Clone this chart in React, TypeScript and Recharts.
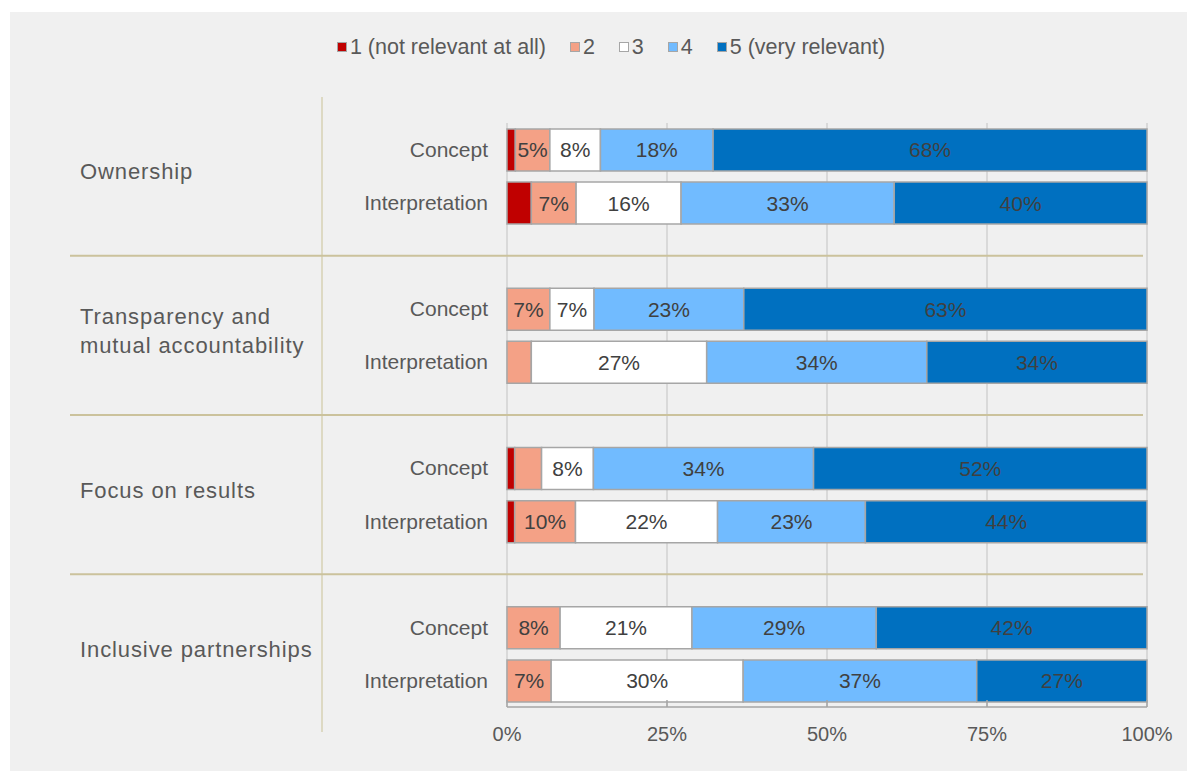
import React from 'react';
import { BarChart, Bar, XAxis, YAxis, CartesianGrid, LabelList } from 'recharts';

document.body.style.margin = '0';

const FONT = '"Liberation Sans", Arial, sans-serif';

// Principles (group labels), each split into two rows
const groups = [
  'Ownership',
  'Transparency and\nmutual accountability',
  'Focus on results',
  'Inclusive partnerships',
];
const aspects = ['Concept', 'Interpretation'];

const seriesNames = ['1 (not relevant at all)', '2', '3', '4', '5 (very relevant)'];
const seriesColors = ['#c00000', '#f4a186', '#ffffff', '#71bbff', '#0070c0'];

// share of answers in %, order: Ownership C, I, Transparency C, I, Focus C, I, Inclusive C, I
const score1 = [1.3, 3.8, 0, 0, 1.2, 1.2, 0, 0];
const score2 = [5.4, 7.0, 6.7, 3.8, 4.2, 9.5, 8.3, 6.9];
const score3 = [7.9, 16.4, 6.9, 27.4, 8.1, 22.2, 20.6, 30.0];
const score4 = [17.6, 33.3, 23.4, 34.4, 34.4, 23.1, 28.8, 36.5];
const score5 = [67.8, 39.5, 63.0, 34.4, 52.1, 44.0, 42.3, 26.6];

const xTicks = [0, 25, 50, 75, 100];

const seriesValues = [score1, score2, score3, score4, score5];

// one row per aspect, plus a blank spacer row between principles
const rows: any[] = [];
groups.forEach((group, g) => {
  if (g > 0) rows.push({ id: `gap-${g}`, group, aspect: '', gap: true });
  aspects.forEach((aspect, a) => {
    const row: any = { id: `${g}-${a}`, group, aspect, gap: false };
    seriesValues.forEach((vals, s) => {
      row[`s${s}`] = vals[g * 2 + a];
    });
    rows.push(row);
  });
});

function CategoryTick(props: any) {
  const { x, y, payload } = props;
  const row = rows.find((r) => r.id === payload.value);
  if (!row) return null;
  if (row.gap) {
    return <line x1={70} x2={1143} y1={y} y2={y} stroke="#cbc29c" strokeWidth={2} />;
  }
  const lines: string[] = row.group.split('\n');
  return (
    <g>
      <text x={x} y={y} dy="0.35em" textAnchor="end" fill="#595959" fontSize={21} fontFamily={FONT}>
        {row.aspect}
      </text>
      {row.aspect === 'Concept' &&
        lines.map((t, i) => (
          <text
            key={i}
            x={80}
            y={y + 22 + (i - (lines.length - 1) / 2) * 29}
            dy="0.35em"
            fill="#595959"
            fontSize={22}
            letterSpacing={0.9}
            fontFamily={FONT}
          >
            {t}
          </text>
        ))}
    </g>
  );
}

const pct = (v: any) => (typeof v === 'number' && v >= 4.5 ? `${Math.round(v)}%` : '');

export default function App() {
  return (
    <div style={{ position: 'relative', width: 1187, height: 773, background: '#fff', fontFamily: FONT, overflow: 'hidden' }}>
      <div style={{ position: 'absolute', left: 10, top: 12, width: 1177, height: 759, background: '#f0f0f0' }} />

      <div
        style={{
          position: 'absolute',
          top: 36,
          left: 0,
          width: 1187,
          display: 'flex',
          justifyContent: 'center',
          paddingLeft: 35,
          boxSizing: 'border-box',
          fontSize: 21.5,
          lineHeight: '22px',
          color: '#595959',
        }}
      >
        {seriesNames.map((name, i) => (
          <div key={name} style={{ display: 'flex', alignItems: 'center', marginRight: i < seriesNames.length - 1 ? 24 : 0 }}>
            <span
              style={{
                display: 'inline-block',
                width: 8,
                height: 8,
                background: seriesColors[i],
                border: '1.5px solid #a6a6a6',
                marginRight: 3,
              }}
            />
            <span>{name}</span>
          </div>
        ))}
      </div>

      <svg width={1187} height={773} style={{ position: 'absolute', left: 0, top: 0 }}>
        <line x1={322} x2={322} y1={97} y2={732} stroke="#ddd9c3" strokeWidth={2} />
      </svg>

      <div style={{ position: 'absolute', left: 0, top: 0 }}>
        <BarChart
          width={1187}
          height={773}
          data={rows}
          layout="vertical"
          barSize={42}
          margin={{ top: 123, right: 40, bottom: 36, left: 307 }}
        >
          <CartesianGrid horizontal={false} stroke="#d9d9d9" strokeWidth={2} />
          <XAxis
            type="number"
            domain={[0, 100]}
            ticks={xTicks}
            tickFormatter={(v) => `${v}%`}
            height={30}
            axisLine={{ stroke: '#a6a6a6', strokeWidth: 1.5 }}
            tickLine={{ stroke: '#a6a6a6', strokeWidth: 1.5 }}
            tickSize={-7}
            tickMargin={27}
            tick={{ fill: '#595959', fontSize: 20, fontFamily: FONT }}
          />
          <YAxis
            type="category"
            dataKey="id"
            width={200}
            interval={0}
            axisLine={false}
            tickLine={false}
            tickSize={0}
            tickMargin={19}
            tick={<CategoryTick />}
          />
          {seriesNames.map((name, s) => (
            <Bar
              key={name}
              dataKey={`s${s}`}
              name={name}
              stackId="a"
              fill={seriesColors[s]}
              stroke="#a6a6a6"
              strokeWidth={1.5}
              isAnimationActive={false}
            >
              <LabelList
                dataKey={`s${s}`}
                position="center"
                formatter={pct}
                fill="#404040"
                fontSize={21}
                fontFamily={FONT}
              />
            </Bar>
          ))}
        </BarChart>
      </div>
    </div>
  );
}
